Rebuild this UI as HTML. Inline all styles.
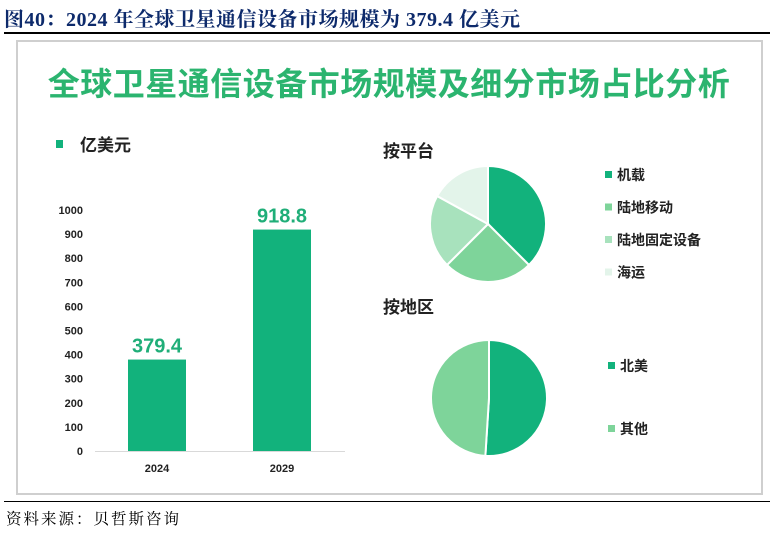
<!DOCTYPE html>
<html><head><meta charset="utf-8"><style>
body{margin:0;width:776px;height:538px;background:#fff;overflow:hidden;position:relative;font-family:"Liberation Sans","Noto Sans CJK SC",sans-serif}
.abs{position:absolute}
</style></head><body>
<div class="abs" style="left:4px;top:3px;font-family:'Liberation Serif','Noto Serif CJK SC',serif;font-weight:bold;font-size:20px;color:#0d2a6b;white-space:nowrap;letter-spacing:0.5px">图40：2024&nbsp;年全球卫星通信设备市场规模为&nbsp;379.4&nbsp;亿美元</div>
<div class="abs" style="left:4px;top:32px;width:766px;height:2px;background:#000"></div>
<div class="abs" style="left:16px;top:40px;width:747px;height:455px;border:2px solid #cfcfcf;box-sizing:border-box"></div>
<div class="abs" style="left:0;width:778px;top:59px;text-align:center;font-weight:bold;font-size:32px;color:#2bb46f;font-family:'Noto Sans CJK SC',sans-serif;letter-spacing:0.5px">全球卫星通信设备市场规模及细分市场占比分析</div>
<div class="abs" style="left:4px;top:501px;width:766px;height:1px;background:#000"></div>
<div class="abs" style="left:6px;top:507px;font-family:'Noto Serif CJK SC',serif;font-size:15.5px;color:#000;letter-spacing:2px">资料来源：贝哲斯咨询</div>
<svg class="abs" style="left:0;top:0" width="776" height="538" id="svg"></svg>
<script>
const years=["2024","2029"];
const sizes=[379.4,918.8];
const yTicks=[0,100,200,300,400,500,600,700,800,900,1000];
const platformLabels=["机载","陆地移动","陆地固定设备","海运"];
const platformShares=[37.5,25,20.5,17];
const regionLabels=["北美","其他"];
const regionShares=[51,49];
const platformColors=["#12b27c","#7ed49a","#a8e2bd","#e3f4ea"];
const regionColors=["#12b27c","#7ed49a"];
const NS="http://www.w3.org/2000/svg";
const svg=document.getElementById('svg');
function mk(t,a,txt){const e=document.createElementNS(NS,t);for(const k in a)e.setAttribute(k,a[k]);if(txt!=null)e.textContent=txt;svg.appendChild(e);return e;}
const y0=451,yTop=210,yMax=1000;
const Y=v=>y0-(v/yMax)*(y0-yTop);
const X=i=>157+i*125;
let e=mk('rect',{x:56,y:140,width:7,height:8,fill:'#12b27c'});

e=mk('text',{x:80,y:151,'font-size':17,'font-weight':'bold',fill:'#222','font-family':"Noto Sans CJK SC,sans-serif"},'亿美元');

yTicks.forEach(t=>{e=mk('text',{x:83,y:Y(t)+4,'text-anchor':'end','font-size':11,'font-weight':'bold',fill:'#222'},t);
});
e=mk('line',{x1:95,x2:345,y1:y0+.5,y2:y0+.5,stroke:'#d9d9d9','stroke-width':1});

sizes.forEach((v,i)=>{
e=mk('rect',{x:X(i)-29,y:Y(v),width:58,height:y0-Y(v),fill:'#12b27c'});

e=mk('text',{x:X(i),y:Y(v)-7,'text-anchor':'middle','font-size':20,'font-weight':'bold',fill:'#1fae78'},v.toFixed(1));

e=mk('text',{x:X(i),y:472,'text-anchor':'middle','font-size':11,'font-weight':'bold',fill:'#222'},years[i]);

});
function pie(cx,cy,r,shares,colors,name){
 const tot=shares.reduce((a,b)=>a+b,0);let a=0;
 shares.forEach((s,i)=>{const a0=a/tot*2*Math.PI;a+=s;const a1=a/tot*2*Math.PI;
 const p=(an)=>[cx+r*Math.sin(an),cy-r*Math.cos(an)];const [x0,yy0]=p(a0),[x1,yy1]=p(a1);
 const el=mk('path',{d:`M${cx},${cy}L${x0},${yy0}A${r},${r} 0 ${a1-a0>Math.PI?1:0} 1 ${x1},${yy1}Z`,fill:colors[i],stroke:'#fff','stroke-width':2});
 });
}
pie(488,224,58,platformShares,platformColors,'platform');
pie(489,398,58,regionShares,regionColors,'region');
e=mk('text',{x:383,y:157,'font-size':17,'font-weight':'bold',fill:'#222','font-family':"Noto Sans CJK SC,sans-serif"},'按平台');

e=mk('text',{x:383,y:313,'font-size':17,'font-weight':'bold',fill:'#222','font-family':"Noto Sans CJK SC,sans-serif"},'按地区');

platformLabels.forEach((l,i)=>{const yy=175+i*32.5;
e=mk('rect',{x:605,y:yy-4,width:7,height:7,fill:platformColors[i]});

e=mk('text',{x:617,y:yy+5,'font-size':14,'font-weight':'bold',fill:'#222','font-family':"Noto Sans CJK SC,sans-serif"},l);
});
regionLabels.forEach((l,i)=>{const yy=366+i*63;
e=mk('rect',{x:608,y:yy-4,width:7,height:7,fill:regionColors[i]});

e=mk('text',{x:620,y:yy+5,'font-size':14,'font-weight':'bold',fill:'#222','font-family':"Noto Sans CJK SC,sans-serif"},l);
});
</script>
</body></html>
